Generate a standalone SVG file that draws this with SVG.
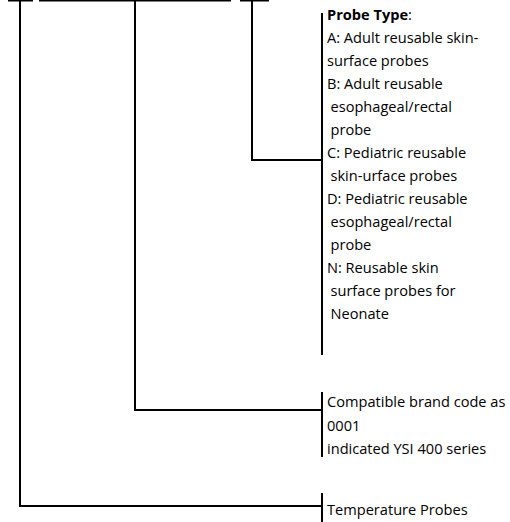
<svg xmlns="http://www.w3.org/2000/svg" width="510" height="522" viewBox="0 0 510 522">
<style>
.c{stroke:#000;stroke-width:2;fill:none}
.t{font-family:"Open Sans","Liberation Sans",Arial,sans-serif;font-size:14.6px;fill:#000}
.b{font-weight:bold}
</style>
<rect width="510" height="522" fill="#fff"/>
<g id="connectors">
<path class="c" d="M8 0.5H33M39 0.5H231M240 0.5H269"/>
<path class="c" d="M20 1V506H322"/>
<path class="c" d="M135 1V410H322"/>
<path class="c" d="M252 1V160H322"/>
</g>
<g id="probe-type">
<line class="c" x1="322" y1="13" x2="322" y2="355"/>
<text class="t" x="327" y="20"><tspan class="b">Probe Type</tspan>:</text>
<text class="t" x="327" y="43">A: Adult reusable skin-</text>
<text class="t" x="327" y="66">surface probes</text>
<text class="t" x="327" y="89">B: Adult reusable</text>
<text class="t" x="330.5" y="112">esophageal/rectal</text>
<text class="t" x="330.5" y="135">probe</text>
<text class="t" x="327" y="158">C: Pediatric reusable</text>
<text class="t" x="330.5" y="181">skin-urface probes</text>
<text class="t" x="327" y="204">D: Pediatric reusable</text>
<text class="t" x="330.5" y="227">esophageal/rectal</text>
<text class="t" x="330.5" y="250">probe</text>
<text class="t" x="327" y="273">N: Reusable skin</text>
<text class="t" x="330.5" y="296">surface probes for</text>
<text class="t" x="330.5" y="319">Neonate</text>
</g>
<g id="brand-code">
<line class="c" x1="322" y1="392" x2="322" y2="457"/>
<text class="t" x="327" y="407">Compatible brand code as</text>
<text class="t" x="327" y="431">0001</text>
<text class="t" x="327" y="454">indicated YSI 400 series</text>
</g>
<g id="temperature-probes">
<line class="c" x1="322" y1="493" x2="322" y2="522"/>
<text class="t" x="327" y="515">Temperature Probes</text>
</g>
</svg>
